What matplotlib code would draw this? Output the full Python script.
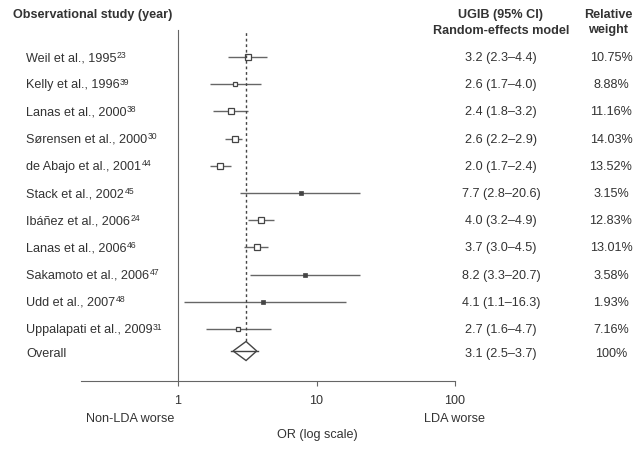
"""
Forest plot: observational studies of low-dose aspirin and UGIB risk.
"""
import numpy as np
import matplotlib
matplotlib.use("Agg")
import matplotlib.pyplot as plt
from matplotlib.transforms import blended_transform_factory
from matplotlib.patches import Polygon

plt.rcParams["font.family"] = ["Liberation Sans", "DejaVu Sans"]

studies = ["Weil et al., 1995", "Kelly et al., 1996", "Lanas et al., 2000",
           "Sørensen et al., 2000", "de Abajo et al., 2001", "Stack et al., 2002",
           "Ibáñez et al., 2006", "Lanas et al., 2006", "Sakamoto et al., 2006",
           "Udd et al., 2007", "Uppalapati et al., 2009"]
refs = ["23", "39", "38", "30", "44", "45", "24", "46", "47", "48", "31"]
odds = [3.2, 2.6, 2.4, 2.6, 2.0, 7.7, 4.0, 3.7, 8.2, 4.1, 2.7]
lower = [2.3, 1.7, 1.8, 2.2, 1.7, 2.8, 3.2, 3.0, 3.3, 1.1, 1.6]
upper = [4.4, 4.0, 3.2, 2.9, 2.4, 20.6, 4.9, 4.5, 20.7, 16.3, 4.7]
weights = [10.75, 8.88, 11.16, 14.03, 13.52, 3.15, 12.83, 13.01, 3.58, 1.93, 7.16]
overall = (3.1, 2.5, 3.7)

TXT = "#333333"
LINE = "#666666"
FS = 9.1

fig = plt.figure(figsize=(6.42, 4.49), dpi=100)
W, H = 642, 449
ax = fig.add_axes([81.2 / W, 1 - 381 / H, (455 - 81.2) / W, (381 - 30) / H])

row0, step = 57, 27.2
rows = np.arange(len(studies))
over_row = (351 - row0) / step
y_top = (30 - row0) / step
ax.set_xscale("log")
ax.set_xlim(0.2, 100)
ax.set_ylim((381 - row0) / step, y_top)

# study CIs and boxes (tiny weights drawn as filled dots)
for i in rows:
    ax.plot([lower[i], upper[i]], [i, i], color=LINE, lw=1, solid_capstyle="butt")
    if weights[i] < 5:
        ax.plot(odds[i], i, marker="s", ms=2.6, mfc="#444444", mec="#444444", mew=0.5)
    else:
        ms = 1.6 * np.sqrt(weights[i]) * 0.72
        ax.plot(odds[i], i, marker="s", ms=ms, mfc="white", mec="#444444", mew=0.9)

# pooled estimate
o, lo, hi = overall
ax.plot([o, o], [over_row - 0.35, y_top], color="#444444", lw=1, ls=(0, (2, 2)))
dia = Polygon([[lo, over_row], [o, over_row - 0.35], [hi, over_row], [o, over_row + 0.35]],
              closed=True, fc="white", ec="#444444", lw=1, zorder=3)
ax.add_patch(dia)
ax.plot([lo * 0.97, hi * 1.03], [over_row, over_row], color="#444444", lw=1, zorder=4)

for s in ["top", "right"]:
    ax.spines[s].set_visible(False)
ax.spines["left"].set_position(("data", 1))
ax.spines["left"].set_color(LINE)
ax.spines["bottom"].set_color(LINE)
ax.set_yticks([])
ax.set_xticks([1, 10, 100])
ax.set_xticklabels(["1", "10", "100"])
ax.minorticks_off()
ax.tick_params(axis="x", direction="out", length=3.6, color=LINE, labelcolor=TXT,
               labelsize=FS, pad=6.5)

# text columns
tr = blended_transform_factory(fig.transFigure, ax.transData)
renderer = fig.canvas.get_renderer()
for i in rows:
    t = ax.text(26 / W, i + 0.04, studies[i], transform=tr,
                ha="left", va="center", fontsize=FS, color=TXT)
    bb = t.get_window_extent(renderer)
    fig.text((bb.x1 + 0.5) / W, (bb.y1 + 1.5) / H, refs[i], ha="left", va="top",
             fontsize=6.2, color=TXT)
    ax.text(501 / W, i + 0.04, f"{odds[i]:.1f} ({lower[i]:.1f}–{upper[i]:.1f})", transform=tr,
            ha="center", va="center", fontsize=FS, color=TXT)
    ax.text(611 / W, i + 0.04, f"{weights[i]:.2f}%", transform=tr,
            ha="center", va="center", fontsize=FS, color=TXT)
ax.text(26 / W, over_row + 0.1, "Overall", transform=tr, ha="left", va="center",
        fontsize=FS, color=TXT)
ax.text(501 / W, over_row + 0.1, f"{o:.1f} ({lo:.1f}–{hi:.1f})", transform=tr,
        ha="center", va="center", fontsize=FS, color=TXT)
ax.text(611 / W, over_row + 0.1, "100%", transform=tr, ha="center", va="center",
        fontsize=FS, color=TXT)

# headers
hdr = dict(ha="center", va="center", fontsize=FS, fontweight="bold", color=TXT)
fig.text(13 / W, 1 - 15 / H, "Observational study (year)", ha="left", va="center",
         fontsize=FS, fontweight="bold", color=TXT)
fig.text(501 / W, 1 - 15 / H, "UGIB (95% CI)", **hdr)
fig.text(501 / W, 1 - 30.5 / H, "Random-effects model", **hdr)
fig.text(608 / W, 1 - 15 / H, "Relative", **hdr)
fig.text(608 / W, 1 - 30.5 / H, "weight", **hdr)

# bottom labels
fig.text(130.5 / W, 1 - 419 / H, "Non-LDA worse", ha="center", va="center",
         fontsize=FS, color=TXT)
fig.text(455 / W, 1 - 419 / H, "LDA worse", ha="center", va="center",
         fontsize=FS, color=TXT)
fig.text(317 / W, 1 - 435 / H, "OR (log scale)", ha="center", va="center",
         fontsize=FS, color=TXT)

fig.savefig("out.png", dpi=100)
